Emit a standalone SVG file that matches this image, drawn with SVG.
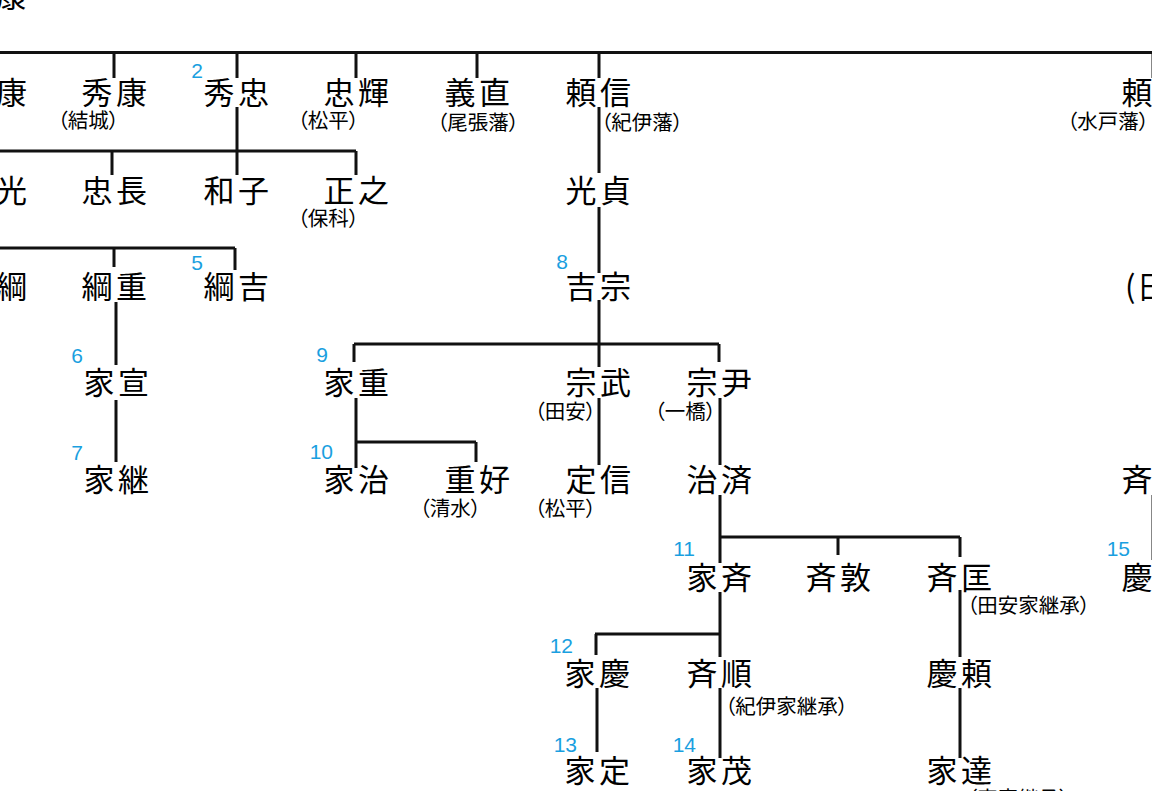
<svg xmlns="http://www.w3.org/2000/svg" width="1152" height="791" viewBox="0 0 1152 791">
<style>
.n{font-family:"Noto Sans CJK JP","Noto Sans CJK SC",sans-serif;font-size:31px;letter-spacing:3.5px;fill:#000;text-anchor:middle;dominant-baseline:central}
.a{font-family:"Noto Sans CJK JP","Noto Sans CJK SC",sans-serif;font-size:20.5px;fill:#000;dominant-baseline:central;font-feature-settings:"palt"}
.e{text-anchor:end}.m{text-anchor:middle}.s{text-anchor:start}
.g{font-family:"Liberation Sans",Arial,sans-serif;font-size:21px;fill:#1a9fe0;text-anchor:end}
.c{fill:none;stroke:#111;stroke-width:3}
</style>
<rect width="1152" height="791" fill="#fff"/>
<g id="connectors">
<path class="c" d="M-5 52.5H1160 M114 52V78 M237 52V78 M356 52V78 M477 52V78 M599 52V78 M1153 52V78
M237 107V175 M-5 151H356 M112 151V175 M356 151V175
M599 107V173 M599 207V273
M-5 248H235 M114 248V267 M235 248V270
M116 302V365 M116 400V462
M599 300V367 M354 344H719 M354 344V362 M719 344V362
M356 398V468 M356 442H476 M476 442V462
M599 398V465 M720 398V465
M720 495V563 M720 537H960 M838 537V555 M960 537V557
M720 592V657 M595 634H720 M596 634V655
M597 688V752 M720 688V758
M960 590V657 M960 688V758
M1153 495V560"/>
</g>
<g id="n-ieyasu"><text class="n" x="-4" y="-7">家康</text></g>
<g id="n-nobuyasu"><text class="n" x="-4" y="90">信康</text></g>
<g id="n-hideyasu"><text class="n" x="116" y="90">秀康</text><text class="a e" x="119" y="119">（結城）</text></g>
<g id="n-hidetada"><text class="n" x="238" y="90">秀忠</text><text class="g" x="203" y="78">2</text></g>
<g id="n-tadateru"><text class="n" x="358" y="90">忠輝</text><text class="a e" x="359" y="119">（松平）</text></g>
<g id="n-yoshinao"><text class="n" x="479" y="90">義直</text><text class="a m" x="478" y="121">（尾張藩）</text></g>
<g id="n-yorinobu"><text class="n" x="600" y="90">頼信</text><text class="a s" x="601" y="121">（紀伊藩）</text></g>
<g id="n-yorifusa"><text class="n" x="1156" y="90">頼房</text><text class="a e" x="1149" y="120">（水戸藩）</text></g>
<g id="n-iemitsu"><text class="n" x="-4" y="188">家光</text></g>
<g id="n-tadanaga"><text class="n" x="116" y="188">忠長</text></g>
<g id="n-kazuko"><text class="n" x="238" y="188">和子</text></g>
<g id="n-masayuki"><text class="n" x="358" y="188">正之</text><text class="a e" x="359" y="217">（保科）</text></g>
<g id="n-mitsusada"><text class="n" x="600" y="188">光貞</text></g>
<g id="n-ietsuna"><text class="n" x="-4" y="284">家綱</text></g>
<g id="n-tsunashige"><text class="n" x="116" y="284">綱重</text></g>
<g id="n-tsunayoshi"><text class="n" x="238" y="284">綱吉</text><text class="g" x="203" y="270">5</text></g>
<g id="n-yoshimune"><text class="n" x="600" y="284">吉宗</text><text class="g" x="568" y="269">8</text></g>
<g id="n-right3"><text class="n" x="1125" y="284" style="text-anchor:start">(田</text></g>
<g id="n-ienobu"><text class="n" x="118" y="380">家宣</text><text class="g" x="83" y="363">6</text></g>
<g id="n-ieshige"><text class="n" x="358" y="380">家重</text><text class="g" x="328" y="362">9</text></g>
<g id="n-munetake"><text class="n" x="600" y="380">宗武</text><text class="a e" x="596" y="410">（田安）</text></g>
<g id="n-munetada"><text class="n" x="721" y="380">宗尹</text><text class="a e" x="716" y="410">（一橋）</text></g>
<g id="n-ietsugu"><text class="n" x="118" y="477">家継</text><text class="g" x="83" y="460">7</text></g>
<g id="n-ieharu"><text class="n" x="358" y="477">家治</text><text class="g" x="333" y="459">10</text></g>
<g id="n-shigeyoshi"><text class="n" x="479" y="477">重好</text><text class="a e" x="481" y="507">（清水）</text></g>
<g id="n-sadanobu"><text class="n" x="600" y="477">定信</text><text class="a e" x="596" y="507">（松平）</text></g>
<g id="n-harusada"><text class="n" x="721" y="477">治済</text></g>
<g id="n-nariaki"><text class="n" x="1156" y="477">斉昭</text></g>
<g id="n-ienari"><text class="n" x="721" y="575">家斉</text><text class="g" x="695" y="556">11</text></g>
<g id="n-naritoshi"><text class="n" x="840" y="575">斉敦</text></g>
<g id="n-narimasa"><text class="n" x="961" y="575">斉匡</text><text class="a s" x="967" y="604">（田安家継承）</text></g>
<g id="n-yoshinobu"><text class="n" x="1156" y="575">慶喜</text><text class="g" x="1130" y="556">15</text></g>
<g id="n-ieyoshi"><text class="n" x="599" y="671">家慶</text><text class="g" x="573" y="653">12</text></g>
<g id="n-nariyuki"><text class="n" x="721" y="671">斉順</text><text class="a s" x="725" y="705">（紀伊家継承）</text></g>
<g id="n-yoshiyori"><text class="n" x="961" y="671">慶頼</text></g>
<g id="n-iesada"><text class="n" x="599" y="768">家定</text><text class="g" x="577" y="752">13</text></g>
<g id="n-iemochi"><text class="n" x="721" y="768">家茂</text><text class="g" x="696" y="752">14</text></g>
<g id="n-iesato"><text class="n" x="961" y="768">家達</text><text class="a s" x="967" y="797">（宗家継承）</text></g>
</svg>
